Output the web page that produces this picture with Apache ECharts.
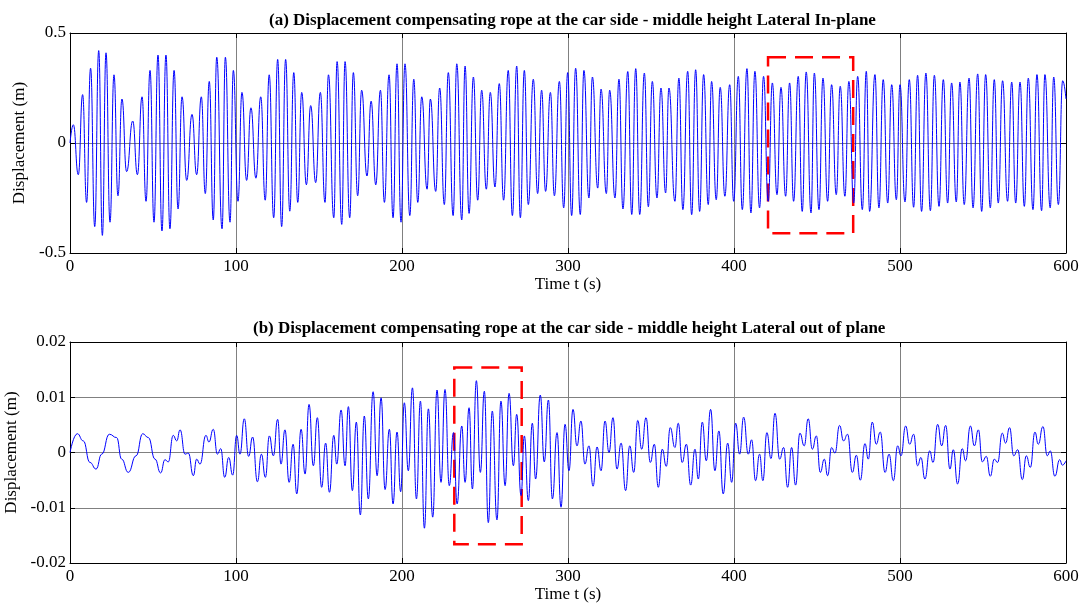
<!DOCTYPE html>
<html>
<head>
    <meta charset="utf-8">
    <title>ECharts</title>
    <script src="https://cdn.jsdelivr.net/npm/echarts@6/dist/echarts.min.js"></script>
    <style>
        body { margin: 0; background: #fff; }
        #main { width: 1083px; height: 607px; }
    </style>
</head>
<body>
<div id="main"></div>
<script type="text/javascript">
    // (a) lateral in-plane: peaks and troughs, [time s, displacement m]
    var inPlanePeaks = [
        [2,0.083],[7.6,0.22],[12.4,0.34],[17.3,0.42],[21.7,0.41],[26.5,0.31],[31.3,0.2],[37.8,0.1],[43.4,0.21],[48.2,0.33],[53,0.40],[57.8,0.40],[62.7,0.33],[67.5,0.21],[73.5,0.13],[79.1,0.21],[83.9,0.28],[88.4,0.39],[93.6,0.39],[98.4,0.33],[103.6,0.23],[109,0.16],[114.9,0.21],[120,0.31],
        [125.1,0.38],[129.9,0.38],[134.8,0.32],[139.6,0.23],[145,0.17],[150.8,0.23],[155.7,0.31],[160.9,0.37],[165.7,0.37],[170.7,0.32],[175.7,0.24],[181.4,0.19],[187,0.24],[192.2,0.31],[197,0.36],[201.8,0.36],[207.1,0.29],[211.9,0.21],[217.1,0.20],[222.7,0.25],[227.9,0.32],[233,0.36],[238,0.35],
        [243,0.30],[248,0.24],[253.2,0.23],[258.6,0.27],[264,0.33],[269.1,0.35],[273.7,0.33],[279.1,0.29],[284.1,0.24],[289.4,0.23],[294.8,0.28],[299.8,0.32],[304.6,0.34],[309.6,0.33],[314.7,0.30],[319.9,0.245],[325.1,0.24],[330.7,0.29],[336,0.325],[340.8,0.338],[346,0.318],[350.8,0.28],[356,0.25],[360.8,0.25],
        [366.8,0.295],[372.1,0.326],[376.9,0.333],[381.7,0.311],[386.5,0.28],[391.7,0.253],[397.4,0.265],[402.6,0.303],[407.8,0.338],[412.6,0.326],[417.8,0.303],[423.1,0.273],[428.3,0.253],[433.5,0.273],[438.7,0.303],[443.5,0.323],[448.4,0.318],[453.6,0.295],[458.8,0.265],[464,0.258],[469.2,0.28],[474.5,0.303],[479.7,0.326],
        [484.9,0.311],[489.9,0.288],[495,0.265],[500,0.265],[505.6,0.288],[510.6,0.308],[515.6,0.318],[520.7,0.308],[526.1,0.288],[531.1,0.273],[536.1,0.277],[541.6,0.295],[546.8,0.314],[551.6,0.311],[556.8,0.288],[561.8,0.283],[567.3,0.277],[572.3,0.277],[577.3,0.295],[582.5,0.311],[587.3,0.311],[592.6,0.3],[598,0.283]
    ];
    var inPlaneTroughs = [
        [5,-0.144],[10,-0.27],[14.9,-0.38],[19.5,-0.42],[24.1,-0.36],[28.9,-0.24],[34.1,-0.13],[40.6,-0.144],[45.8,-0.265],[50.6,-0.36],[55.4,-0.40],[60.2,-0.39],[65.1,-0.30],[70.3,-0.17],[76.3,-0.144],[81.5,-0.23],[86.3,-0.35],[91.6,-0.39],[96.4,-0.36],[101.2,-0.265],[106.4,-0.17],[112,-0.16],[117.6,-0.26],
        [122.7,-0.34],[127.5,-0.38],[132.4,-0.31],[137.2,-0.27],[142.4,-0.19],[148,-0.18],[153.6,-0.27],[158.9,-0.34],[163.7,-0.37],[168.5,-0.34],[173.3,-0.24],[178.9,-0.15],[184.2,-0.19],[189.4,-0.27],[194.6,-0.34],[199.4,-0.36],[204.7,-0.33],[209.5,-0.27],[215.1,-0.21],[220.3,-0.22],[225.5,-0.28],[230.8,-0.33],[236,-0.35],[240.4,-0.32],
        [245.6,-0.26],[250.8,-0.21],[256,-0.20],[261.2,-0.26],[266.5,-0.33],[271.3,-0.34],[276.1,-0.28],[281.7,-0.23],[286.5,-0.22],[291.8,-0.24],[297.4,-0.295],[302.2,-0.33],[307.4,-0.325],[312.6,-0.25],[317.9,-0.205],[323.1,-0.23],[328.3,-0.25],[333.1,-0.30],[338.4,-0.325],[343.2,-0.325],[348.4,-0.29],[353.6,-0.25],[358.8,-0.227],
        [364.4,-0.265],[369.2,-0.303],[374.5,-0.326],[379.3,-0.311],[384.5,-0.28],[389.3,-0.258],[394.5,-0.242],[399.8,-0.265],[405,-0.303],[410.2,-0.318],[415.4,-0.295],[420.6,-0.265],[425.9,-0.235],[431.1,-0.242],[435.9,-0.265],[441.1,-0.311],[446.4,-0.318],[451.2,-0.303],[456.4,-0.265],[461.6,-0.235],[466.8,-0.242],[472.1,-0.273],[477.3,-0.303],[481.7,-0.311],
        [487.3,-0.295],[492.6,-0.273],[497.8,-0.258],[503,-0.268],[508.2,-0.292],[513,-0.311],[518.3,-0.308],[523.5,-0.288],[528.7,-0.273],[533.9,-0.268],[538.7,-0.28],[544,-0.295],[549.2,-0.311],[554.4,-0.295],[559.2,-0.273],[564.8,-0.265],[569.7,-0.273],[574.9,-0.288],[580.1,-0.303],[585.3,-0.308],[590.5,-0.295],[595.4,-0.28]
    ];
    var inPlaneEnds = [[0, 0], [600, 0.2]];

    // (b) lateral out of plane: turning points, [time s, displacement m]
    var outPlane = [
        [0,0],[4.4,0.0034],[8.0,0.0021],[12.0,-0.0018],[15.7,-0.003],[19.1,-0.0003],[23.7,0.0033],[28.1,0.0027],[31.1,-0.0012],[35.1,-0.0036],[39.8,-0.0006],[43.8,0.0034],[47.2,0.0027],[51.2,-0.0012],[54.6,-0.0037],[57.2,-0.0013],[59.2,-0.0017],[62.2,0.0031],[64.3,0.0021],[66.3,0.0041],[69.3,-0.0003],[71.3,-0.0001],[74.3,-0.0042],[76.3,-0.0012],[78.3,-0.0021],[81.9,0.0031],[83.7,0.0019],[86.3,0.0042],[88.8,-0.0003],[90.8,0.0007],[93.2,-0.0045],[95.6,-0.0009],[98,-0.0041],[100.4,0.0031],[102.4,-0.0003],[105,0.0061],[107.6,-0.0007],[110,0.0028],[112.9,-0.0053],[115.3,-0.0003],[117.7,-0.0045],[120.1,0.003],
        [122.5,-0.0006],[125.1,0.006],[127.1,-0.0021],[129.5,0.0041],[132,-0.0054],[134.4,0.0015],[136.6,-0.0075],[139.2,0.0042],[141.6,-0.0039],[144,0.0087],[146.6,-0.0024],[149,0.0063],[151.6,-0.0063],[154,0.0017],[156.3,-0.0072],[158.9,0.0031],[160.7,-0.0021],[163.3,0.0077],[165.7,-0.0024],[167.7,0.0083],[170.1,-0.0069],[172.5,0.0055],[174.9,-0.0113],[177.3,0.0066],[179.7,-0.0084],[182.6,0.011],[185,-0.0042],[187.4,0.0099],[189.8,-0.0067],[192.4,0.0042],[194.6,-0.0093],[197,0.0037],[199.2,-0.0071],[201.4,0.009],[203.8,-0.0033],[206.3,0.0117],[208.7,-0.0084],[211.1,0.0093],[213.5,-0.0137],[215.9,0.0079],[218.5,-0.0117],[221.1,0.0113],[223.5,-0.0054],[225.9,0.0114],[228.5,-0.006],[231,0.0036],[233.2,-0.0093],[236,0.0048],[238,-0.0054],[240.4,0.0081],
        [242.4,-0.0066],[244.8,0.013],[247.2,-0.0036],[249.6,0.0111],[252,-0.0127],[254.4,0.0075],[257.2,-0.0122],[259.6,0.0093],[262.1,-0.006],[264.5,0.0107],[267.1,-0.0024],[269.1,0.0069],[271.7,-0.0078],[273.7,0.003],[276.1,-0.0087],[278.5,0.0053],[280.5,-0.0048],[283.3,0.0104],[285.7,-0.0017],[288.2,0.0095],[290.6,-0.0084],[293.4,0.0036],[295.8,-0.0099],[298.2,0.0051],[300.6,-0.0033],[303,0.0078],[305.4,0.0012],[307.8,0.0057],[310.2,-0.0021],[312.6,0.0012],[315.1,-0.0061],[317.5,0.001],[319.9,-0.0033],[322.3,0.0057],[324.7,0],[327.1,0.0063],[329.5,-0.003],[332,0.0017],[334.7,-0.0069],[337.2,0.0012],[339.6,-0.0036],[342,0.0058],[344.4,0.0006],[347,0.0063],[349.6,-0.0018],[352,0.0015],[354.4,-0.0063],[356.8,0.0006],[359.2,-0.0025],[361.6,0.0045],
        [364.4,0.0009],[366.4,0.0053],[368.8,-0.0018],[371.3,0.0015],[373.9,-0.0059],[376.5,0.0006],[378.5,-0.0048],[380.9,0.0055],[383.3,-0.0015],[385.9,0.0078],[388.5,-0.0033],[390.9,0.0039],[393.5,-0.0075],[396.2,0.0017],[398.6,-0.0054],[401,0.0053],[403.4,-0.0003],[405.8,0.0064],[408.6,-0.0003],[410.6,0.0023],[413,-0.0051],[415.4,-0.0003],[417.4,-0.0051],[419.8,0.0036],[422.3,-0.0011],[424.7,0.0071],[427.5,-0.0012],[429.9,0.0009],[432.3,-0.0063],[434.7,0.0009],[437.1,-0.0059],[439.7,0.0035],[442.3,0.0012],[444.7,0.0061],[447.2,0.0006],[449.6,0.003],[452,-0.0036],[454.4,-0.0012],[456.4,-0.0042],[458.8,0.0009],[460.8,-0.0001],[463.6,0.0049],[466,0.0021],[468.4,0.0033],[471.3,-0.0036],[473.7,-0.0005],[476.1,-0.005],[478.9,0.0016],[480.9,-0.0012],
        [483.3,0.0055],[485.7,0.0015],[488.1,0.0037],[491,-0.0036],[493.4,-0.0003],[496,-0.0051],[498.6,0.0012],[500.6,-0.0006],[503.4,0.0048],[505.8,0.0015],[508.2,0.0033],[510.6,-0.0024],[512.6,-0.0009],[515,-0.0048],[517.9,0.0003],[519.9,-0.0018],[522.7,0.0051],[525.1,0.0012],[527.5,0.0049],[530.1,-0.003],[532.1,0.0005],[534.7,-0.0057],[537.5,0.0007],[539.5,-0.0015],[542.4,0.0048],[544.8,0.0012],[547.2,0.0041],[549.6,-0.0017],[552,-0.0007],[554.4,-0.0043],[556.8,-0.0012],[558.8,-0.0018],[561.6,0.0035],[563.6,0.0017],[566,0.0045],[568.5,-0.0006],[570.9,0.0005],[573.7,-0.0049],[576.1,-0.0006],[578.5,-0.0027],[581.3,0.0037],[583.3,0.0015],[586.1,0.0047],[588.7,-0.0006],[590.5,0.0003],[593.3,-0.0043],[596.2,-0.0013],[597.8,-0.0023],[600,-0.0015]
    ];

    // red dashed boxes, [corner1, corner2] in data coords
    var inPlaneBox = [[420.5, 0.39], [471.8, -0.41]];
    var outPlaneBox = [[231.5, 0.0154], [272.1, -0.0166]];

    var titles = [
        '(a) Displacement compensating rope at the car side - middle height Lateral In-plane',
        '(b) Displacement compensating rope at the car side - middle height Lateral out of plane'
    ];

    var inPlane = inPlanePeaks.concat(inPlaneTroughs, inPlaneEnds).sort(function (a, b) { return a[0] - b[0]; });

    var font = 'Liberation Serif';
    var gridColor = '#808080';

    function xAxisFor(gridIndex, onTop) {
        return {
            type: 'value', gridIndex: gridIndex, min: 0, max: 600, interval: 100,
            position: onTop ? 'top' : 'bottom',
            name: onTop ? '' : 'Time t (s)', nameLocation: 'middle', nameGap: 17,
            nameTextStyle: { fontFamily: font, fontSize: 17, color: '#000' },
            axisLine: { show: true, onZero: false, lineStyle: { color: '#000', width: 1 } },
            axisTick: { show: true, inside: true, length: 5, lineStyle: { color: '#000' } },
            axisLabel: { show: !onTop, fontFamily: font, fontSize: 17, color: '#000', margin: 5 },
            splitLine: { show: !onTop, lineStyle: { color: gridColor, width: 1 } }
        };
    }
    function yAxisFor(gridIndex, onRight, min, max, step, gap) {
        return {
            type: 'value', gridIndex: gridIndex, min: min, max: max, interval: step,
            position: onRight ? 'right' : 'left',
            name: onRight ? '' : 'Displacement (m)', nameLocation: 'middle', nameGap: gap,
            nameTextStyle: { fontFamily: font, fontSize: 17, color: '#000' },
            axisLine: { show: true, onZero: false, lineStyle: { color: '#000', width: 1 } },
            axisTick: { show: true, inside: true, length: 5, lineStyle: { color: '#000' } },
            axisLabel: { show: !onRight, fontFamily: font, fontSize: 17, color: '#000', margin: 4 },
            splitLine: { show: !onRight, lineStyle: { color: gridColor, width: 1 } }
        };
    }
    function boxArea(box) {
        return {
            silent: true,
            itemStyle: { color: 'rgba(0,0,0,0)', borderColor: '#ff0000', borderWidth: 2.5, borderType: [18, 9] },
            data: [[{ coord: box[0] }, { coord: box[1] }]]
        };
    }

    var myChart = echarts.init(document.getElementById('main'));
    myChart.setOption({
        animation: false,
        backgroundColor: '#fff',
        title: [
            { text: titles[0], left: 264, top: 7, textStyle: { fontFamily: font, fontSize: 17, fontWeight: 'bold', color: '#000' } },
            { text: titles[1], left: 248, top: 315, textStyle: { fontFamily: font, fontSize: 17, fontWeight: 'bold', color: '#000' } }
        ],
        grid: [
            { left: 70, right: 17, top: 33, height: 220, outerBoundsMode: 'none' },
            { left: 70, right: 17, top: 342, height: 221, outerBoundsMode: 'none' }
        ],
        xAxis: [xAxisFor(0, false), xAxisFor(1, false), xAxisFor(0, true), xAxisFor(1, true)],
        yAxis: [
            yAxisFor(0, false, -0.5, 0.5, 0.5, 37),
            yAxisFor(1, false, -0.02, 0.02, 0.01, 46),
            yAxisFor(0, true, -0.5, 0.5, 0.5, 0),
            yAxisFor(1, true, -0.02, 0.02, 0.01, 0)
        ],
        series: [
            {
                type: 'line', xAxisIndex: 0, yAxisIndex: 0, data: inPlane,
                smooth: 0.5, smoothMonotone: 'x', symbol: 'none',
                lineStyle: { color: '#0000ff', width: 1 },
                markArea: boxArea(inPlaneBox)
            },
            {
                type: 'line', xAxisIndex: 1, yAxisIndex: 1, data: outPlane,
                smooth: 0.5, smoothMonotone: 'x', symbol: 'none',
                lineStyle: { color: '#0000ff', width: 1 },
                markArea: boxArea(outPlaneBox)
            }
        ]
    });
</script>
</body>
</html>
